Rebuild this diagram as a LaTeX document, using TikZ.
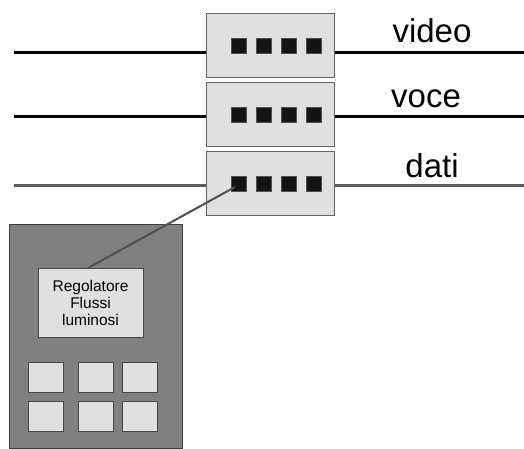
\documentclass[tikz,border=0pt]{standalone}
\usepackage{fontspec}
\setmainfont{Liberation Sans}
\begin{document}
\begin{tikzpicture}[x=1pt,y=-1pt,
  wire/.style={line width=3pt},
  graywire/.style={line width=3pt,draw={rgb,255:red,90;green,90;blue,90}},
  mux/.style={draw={rgb,255:red,100;green,100;blue,100},fill={rgb,255:red,224;green,224;blue,224},line width=0.8pt},
  port/.style={fill={rgb,255:red,20;green,20;blue,20},draw={rgb,255:red,80;green,80;blue,80},line width=0.5pt},
  lbl/.style={font=\fontsize{33}{36}\selectfont,inner sep=0pt,anchor=base},
  key/.style={draw={rgb,255:red,70;green,70;blue,70},fill={rgb,255:red,224;green,224;blue,224},line width=0.7pt}]
\useasboundingbox (0,0) rectangle (524,449);
% lines
\coordinate (l1a) at (14,53); \coordinate (l1b) at (524,53);
\coordinate (l2a) at (14,117); \coordinate (l2b) at (524,117);
\coordinate (l3a) at (14,185); \coordinate (l3b) at (524,185);
\draw[wire] (l1a) -- (l1b);
\draw[wire] (l2a) -- (l2b);
\draw[graywire] (l3a) -- (l3b);
% boxes
\foreach \n/\y in {1/13,2/82,3/151}{
  \draw[mux] (206,\y) rectangle (334,\y+64);
  \foreach \x [count=\i] in {231,256,281,306}{
    \draw[port] (\x,\y+25) rectangle (\x+15,\y+40);
    \coordinate (p\n\i) at (\x+4,\y+36);
  }
}
\node[lbl] (video) at (432,43) {video};
\node[lbl] (voce) at (426,108) {voce};
\node[lbl] (dati) at (432,177) {dati};
% device
\draw[fill={rgb,255:red,128;green,128;blue,128},draw={rgb,255:red,60;green,60;blue,60},line width=0.8pt] (9,224) rectangle (182,448);
\node[key,minimum width=105pt,minimum height=69pt,inner sep=0pt,align=center,font=\fontsize{15.5}{17}\selectfont] (reg) at (90.5,302.5) {Regolatore\\Flussi\\luminosi};
\foreach \y in {362,401}{
  \foreach \x in {28,78,122}{
    \draw[key] (\x,\y) rectangle (\x+35,\y+30);
  }
}
\coordinate (regtop) at (88,268);
\draw[line width=2pt,draw={rgb,255:red,80;green,80;blue,80}] (regtop) -- (p31);
\end{tikzpicture}
\end{document}
